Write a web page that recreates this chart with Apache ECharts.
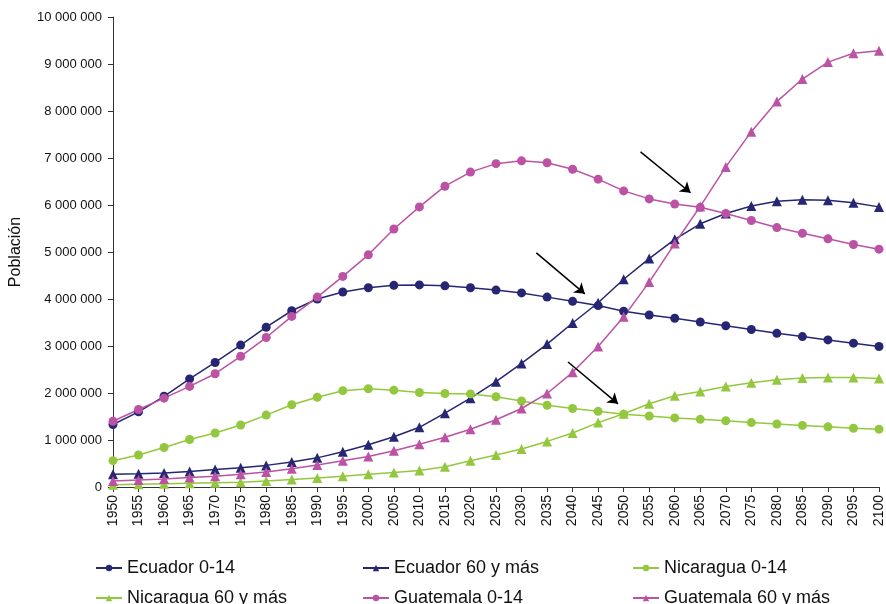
<!DOCTYPE html>
<html>
<head>
<meta charset="utf-8">
<script src="https://cdn.jsdelivr.net/npm/echarts@6/dist/echarts.min.js"></script>
<style>
  html, body { margin: 0; padding: 0; background: #fff; }
  #chart { width: 886px; height: 604px; }
</style>
</head>
<body>
<div id="chart"></div>
<script>
const years = [];
for (let y = 1950; y <= 2100; y += 5) years.push(y);

// millones de personas
const ecuador014 = [1.33, 1.60, 1.93, 2.30, 2.65, 3.02, 3.40, 3.75, 4.00, 4.15, 4.24, 4.29, 4.30, 4.28, 4.24, 4.19, 4.13, 4.04, 3.95, 3.86, 3.74, 3.66, 3.59, 3.51, 3.43, 3.35, 3.27, 3.20, 3.13, 3.06, 2.99];
const ecuador60 = [0.27, 0.28, 0.30, 0.33, 0.37, 0.41, 0.46, 0.53, 0.62, 0.75, 0.90, 1.07, 1.27, 1.57, 1.89, 2.24, 2.63, 3.04, 3.49, 3.92, 4.42, 4.86, 5.27, 5.60, 5.82, 5.98, 6.08, 6.11, 6.10, 6.05, 5.96];
const nicaragua014 = [0.56, 0.68, 0.84, 1.01, 1.15, 1.32, 1.53, 1.75, 1.91, 2.05, 2.09, 2.06, 2.01, 1.99, 1.98, 1.92, 1.83, 1.74, 1.67, 1.61, 1.55, 1.51, 1.47, 1.44, 1.41, 1.37, 1.34, 1.31, 1.28, 1.25, 1.23];
const nicaragua60 = [0.05, 0.06, 0.07, 0.08, 0.09, 0.10, 0.13, 0.16, 0.19, 0.23, 0.27, 0.31, 0.35, 0.43, 0.56, 0.68, 0.81, 0.97, 1.15, 1.37, 1.56, 1.77, 1.94, 2.03, 2.14, 2.22, 2.28, 2.32, 2.33, 2.33, 2.31];
const guatemala014 = [1.40, 1.65, 1.89, 2.14, 2.41, 2.78, 3.18, 3.63, 4.04, 4.48, 4.94, 5.49, 5.96, 6.40, 6.70, 6.88, 6.94, 6.90, 6.76, 6.55, 6.30, 6.13, 6.02, 5.95, 5.82, 5.67, 5.52, 5.40, 5.28, 5.16, 5.06];
const guatemala60 = [0.13, 0.15, 0.17, 0.20, 0.23, 0.27, 0.32, 0.39, 0.47, 0.56, 0.65, 0.77, 0.91, 1.06, 1.23, 1.43, 1.67, 1.99, 2.44, 2.99, 3.62, 4.36, 5.18, 5.97, 6.81, 7.56, 8.20, 8.68, 9.04, 9.23, 9.28];

// flechas: [año, millones] inicio y fin
const arrows = [
  [[2053.3, 7.13], [2063.1, 6.26]],
  [[2032.9, 4.98], [2042.4, 4.11]],
  [[2039.1, 2.66], [2048.9, 1.77]]
];

const NAVY = '#262673', GREEN = '#93c83e', MAGENTA = '#bb52a3';
const FONT = 'Liberation Sans';

const toPairs = arr => arr.map((v, i) => [years[i], Math.round(v * 1e6)]);
const fmt = v => String(v).replace(/\B(?=(\d{3})+(?!\d))/g, ' ');

const seriesDefs = [
  { name: 'Ecuador 0-14', data: ecuador014, color: NAVY, symbol: 'circle' },
  { name: 'Ecuador 60 y más', data: ecuador60, color: NAVY, symbol: 'triangle' },
  { name: 'Nicaragua 0-14', data: nicaragua014, color: GREEN, symbol: 'circle' },
  { name: 'Nicaragua 60 y más', data: nicaragua60, color: GREEN, symbol: 'triangle' },
  { name: 'Guatemala 0-14', data: guatemala014, color: MAGENTA, symbol: 'circle' },
  { name: 'Guatemala 60 y más', data: guatemala60, color: MAGENTA, symbol: 'triangle' }
];

const legendPos = [[95, 559], [362, 559], [632, 559], [95, 589], [362, 589], [632, 589]];

const chart = echarts.init(document.getElementById('chart'));
chart.setOption({
  animation: false,
  backgroundColor: '#fff',
  textStyle: { fontFamily: FONT },
  grid: { left: 111, right: 4, top: 17, bottom: 117 },
  legend: seriesDefs.map((s, i) => ({
    data: [s.name],
    left: legendPos[i][0],
    top: legendPos[i][1],
    padding: 0,
    itemWidth: 26,
    itemHeight: 8,
    textStyle: { fontSize: 18, color: '#111', fontFamily: FONT }
  })),
  xAxis: {
    type: 'value',
    min: 1950,
    max: 2100,
    interval: 5,
    splitLine: { show: false },
    axisLine: { lineStyle: { color: '#333', width: 1 } },
    axisTick: { show: true, length: 5, lineStyle: { color: '#333' } },
    axisLabel: { rotate: 90, color: '#111', fontSize: 14, formatter: v => String(v), margin: 8 }
  },
  yAxis: {
    type: 'value',
    min: 0,
    max: 10000000,
    interval: 1000000,
    name: 'Población',
    nameLocation: 'middle',
    nameGap: 89,
    nameTextStyle: { fontSize: 16, color: '#111' },
    splitLine: { show: false },
    axisLine: { show: true, lineStyle: { color: '#333', width: 1 } },
    axisTick: { show: true, length: 5, lineStyle: { color: '#333' } },
    axisLabel: { color: '#111', fontSize: 13, formatter: fmt, margin: 11 }
  },
  series: seriesDefs.map((s, i) => ({
    name: s.name,
    type: 'line',
    data: toPairs(s.data),
    symbol: s.symbol,
    symbolSize: s.symbol === 'circle' ? 9 : 10,
    showAllSymbol: true,
    lineStyle: { color: s.color, width: 1.5 },
    itemStyle: { color: s.color },
    markLine: i === 0 ? {
      silent: true,
      symbol: ['none', 'arrow'],
      symbolSize: 10,
      label: { show: false },
      lineStyle: { color: '#000', width: 1.5, type: 'solid' },
      data: arrows.map(a => [
        { coord: [a[0][0], a[0][1] * 1e6] },
        { coord: [a[1][0], a[1][1] * 1e6] }
      ])
    } : undefined
  }))
});
</script>
</body>
</html>
